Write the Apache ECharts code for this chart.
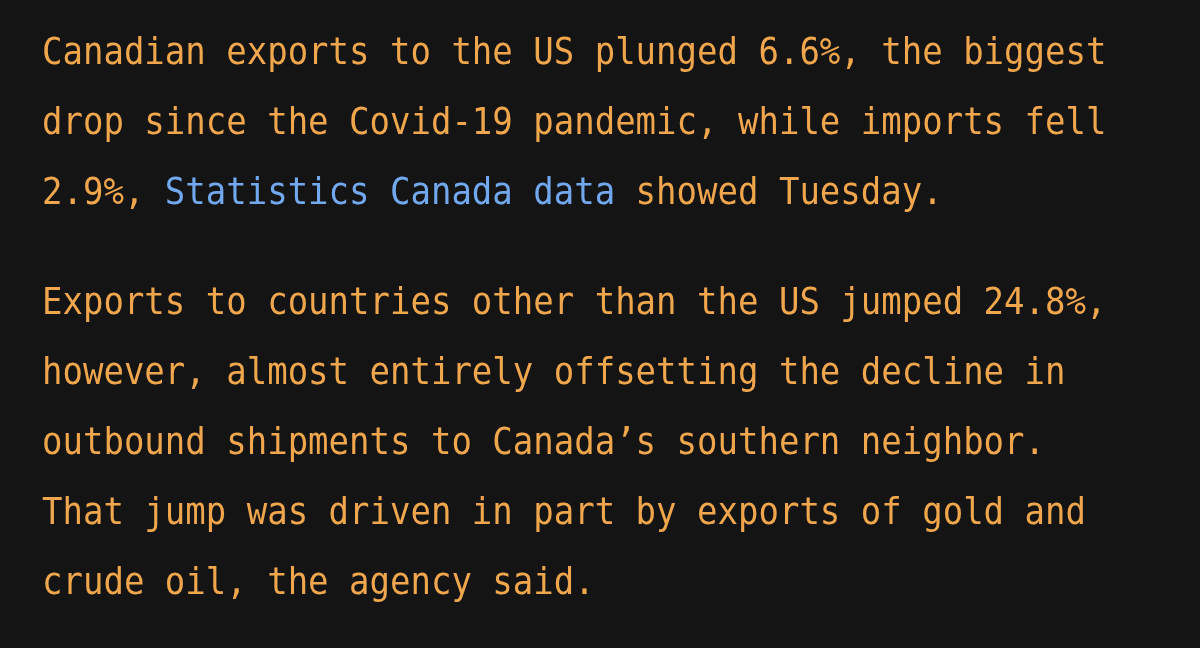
<!DOCTYPE html>
<html><head><meta charset="utf-8">
<script src="https://cdn.jsdelivr.net/npm/echarts@6/dist/echarts.min.js"></script>
<style>html,body{margin:0;padding:0;background:#141414}#c{width:1200px;height:648px}</style>
</head><body><div id="c"></div>
<script>
const paragraph1 = [
  [["o","Canadian exports to the US plunged 6.6%, the biggest"]],
  [["o","drop since the Covid-19 pandemic, while imports fell"]],
  [["o","2.9%, "],["b","Statistics Canada data"],["o"," showed Tuesday."]]
];
const paragraph2 = [
  [["o","Exports to countries other than the US jumped 24.8%,"]],
  [["o","however, almost entirely offsetting the decline in"]],
  [["o","outbound shipments to Canada\u2019s southern neighbor."]],
  [["o","That jump was driven in part by exports of gold and"]],
  [["o","crude oil, the agency said."]]
];
const lineCenters = [50,120,190,300,370,440,510,580];
const lines = paragraph1.concat(paragraph2);
const esc = s => s.replace(/[{}|]/g, '');
const elements = lines.map((segs,i)=>({
  type:'text', left:42, top:lineCenters[i]-15,
  scaleY:1.12,
  style:{
    text: segs.map(([k,t])=>'{'+k+'|'+esc(t)+'}').join(''),
    rich:{
      o:{fill:'#efa64c',font:'34px "DejaVu Sans Mono"'},
      b:{fill:'#72a8ee',font:'34px "DejaVu Sans Mono"'}
    }
  }
}));
const chart = echarts.init(document.getElementById('c'));
chart.setOption({backgroundColor:'#141414', graphic:{elements}});
</script></body></html>
